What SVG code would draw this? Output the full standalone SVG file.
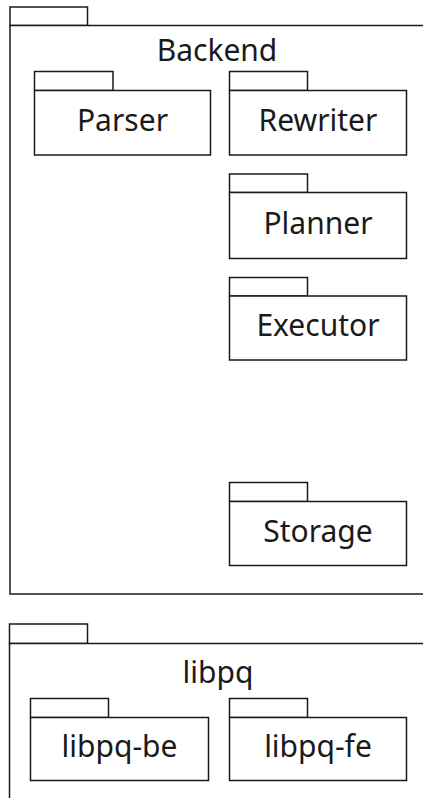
<svg xmlns="http://www.w3.org/2000/svg" width="423" height="798" viewBox="0 0 423 798">
  <style>
    .pk { fill: #fff; stroke: #1a1a1a; stroke-width: 1.5; }
    .lbl { font-family: "Noto Sans", "Open Sans", sans-serif; font-size: 30px; fill: #1a1a1a; text-anchor: middle; }
  </style>
  <rect width="423" height="798" fill="#fff"/>

  <!-- Backend package -->
  <g id="backend">
    <rect class="pk" x="10" y="7" width="77.5" height="18.5"/>
    <rect class="pk" x="10" y="25.5" width="420" height="568.5"/>
    <text class="lbl" x="217" y="61">Backend</text>
  </g>

  <g id="parser">
    <rect class="pk" x="34.5" y="71.5" width="78.5" height="19"/>
    <rect class="pk" x="34.5" y="90.5" width="176" height="64.5"/>
    <text class="lbl" x="122.5" y="131">Parser</text>
  </g>

  <g id="rewriter">
    <rect class="pk" x="229.5" y="71.5" width="78" height="19"/>
    <rect class="pk" x="229.5" y="90.5" width="177" height="64.5"/>
    <text class="lbl" x="318" y="131">Rewriter</text>
  </g>

  <g id="planner">
    <rect class="pk" x="229.5" y="174" width="78" height="18.5"/>
    <rect class="pk" x="229.5" y="192.5" width="177" height="66"/>
    <text class="lbl" x="318" y="234">Planner</text>
  </g>

  <g id="executor">
    <rect class="pk" x="229.5" y="277.5" width="78" height="18.5"/>
    <rect class="pk" x="229.5" y="296" width="177" height="64"/>
    <text class="lbl" x="318" y="336">Executor</text>
  </g>

  <g id="storage">
    <rect class="pk" x="229.5" y="482.5" width="78" height="19"/>
    <rect class="pk" x="229.5" y="501.5" width="177" height="64"/>
    <text class="lbl" x="318" y="542">Storage</text>
  </g>

  <!-- libpq package -->
  <g id="libpq">
    <rect class="pk" x="9.5" y="624" width="78" height="19.5"/>
    <rect class="pk" x="9.5" y="643.5" width="420" height="170"/>
    <text class="lbl" x="218" y="683">libpq</text>
  </g>

  <g id="libpq-be">
    <rect class="pk" x="30.5" y="698.5" width="78" height="19"/>
    <rect class="pk" x="30.5" y="717.5" width="178" height="63"/>
    <text class="lbl" x="119.5" y="757">libpq-be</text>
  </g>

  <g id="libpq-fe">
    <rect class="pk" x="229.5" y="698.5" width="78" height="19"/>
    <rect class="pk" x="229.5" y="717.5" width="177" height="63"/>
    <text class="lbl" x="318" y="757">libpq-fe</text>
  </g>

  <g id="connectors"></g>
</svg>
